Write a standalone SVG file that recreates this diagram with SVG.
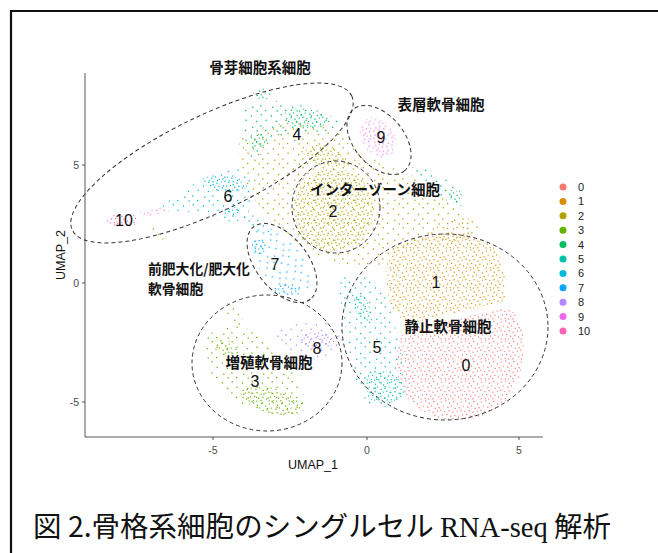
<svg xmlns="http://www.w3.org/2000/svg" xmlns:xlink="http://www.w3.org/1999/xlink" width="658" height="553" viewBox="0 0 658 553">
<style>
.ell{fill:none;stroke:#333;stroke-width:1;stroke-dasharray:4 3}
.jp{font-family:"Noto Sans CJK JP","Noto Sans",sans-serif;font-size:14.5px;font-weight:bold;fill:#111}
.jp2{font-family:"Noto Sans CJK JP","Noto Sans",sans-serif;font-size:13.8px;font-weight:bold;fill:#111}
.num{font-family:"Liberation Sans",Arial,sans-serif;font-size:16px;fill:#111;text-anchor:middle}
.tick{font-family:"Liberation Sans",Arial,sans-serif;font-size:10.5px;fill:#4d4d4d}
.axt{font-family:"Liberation Sans",Arial,sans-serif;font-size:12.5px;fill:#111;text-anchor:middle}
.leg{font-family:"Liberation Sans",Arial,sans-serif;font-size:11px;fill:#222}
.cap{font-family:"Noto Sans CJK JP","Noto Sans",sans-serif;font-size:28.5px;fill:#111}
.ax{stroke:#444;stroke-width:0.9;fill:none}
</style>
<defs>
<g id="dd">
<circle cx="1.3" cy="2.1" r="0.7"/><circle cx="5.7" cy="0.9" r="0.7"/><circle cx="9.4" cy="3.2" r="0.7"/><circle cx="13.8" cy="1.5" r="0.7"/><circle cx="17.6" cy="4.0" r="0.7"/>
<circle cx="3.2" cy="6.1" r="0.7"/><circle cx="7.9" cy="7.3" r="0.7"/><circle cx="11.5" cy="5.9" r="0.7"/><circle cx="15.2" cy="8.4" r="0.7"/><circle cx="19.1" cy="7.7" r="0.7"/>
<circle cx="0.9" cy="10.2" r="0.7"/><circle cx="4.8" cy="11.6" r="0.7"/><circle cx="9.1" cy="10.8" r="0.7"/><circle cx="13.0" cy="12.3" r="0.7"/><circle cx="17.3" cy="11.1" r="0.7"/>
<circle cx="2.5" cy="15.0" r="0.7"/><circle cx="6.6" cy="14.4" r="0.7"/><circle cx="10.7" cy="16.2" r="0.7"/><circle cx="14.9" cy="15.3" r="0.7"/><circle cx="18.5" cy="17.0" r="0.7"/>
<circle cx="1.2" cy="18.9" r="0.7"/><circle cx="5.3" cy="18.6" r="0.7"/><circle cx="8.6" cy="19.1" r="0.7"/><circle cx="12.9" cy="18.7" r="0.7"/>
</g>
<g id="ds">
<circle cx="2.4" cy="3.1" r="0.75"/><circle cx="12.2" cy="1.7" r="0.75"/><circle cx="7.5" cy="8.6" r="0.75"/><circle cx="17.1" cy="7.2" r="0.75"/>
<circle cx="3.8" cy="14.2" r="0.75"/><circle cx="11.9" cy="12.9" r="0.75"/><circle cx="16.6" cy="17.4" r="0.75"/><circle cx="8.2" cy="18.1" r="0.75"/>
</g>
<pattern id="p0d" width="20" height="20" patternUnits="userSpaceOnUse"><use xlink:href="#dd" fill="#F8766D"/></pattern>
<pattern id="p1d" width="20" height="20" patternUnits="userSpaceOnUse" patternTransform="translate(5,9)"><use xlink:href="#dd" fill="#DB8E00"/></pattern>
<pattern id="p1s" width="20" height="20" patternUnits="userSpaceOnUse"><use xlink:href="#ds" fill="#DB8E00"/></pattern>
<pattern id="p2d" width="20" height="20" patternUnits="userSpaceOnUse" patternTransform="translate(3,4)"><use xlink:href="#dd" fill="#AEA200"/></pattern>
<pattern id="p2s" width="20" height="20" patternUnits="userSpaceOnUse" patternTransform="translate(11,6)"><use xlink:href="#ds" fill="#AEA200"/></pattern>
<pattern id="p3d" width="20" height="20" patternUnits="userSpaceOnUse" patternTransform="translate(8,2)"><use xlink:href="#dd" fill="#64B200"/></pattern>
<pattern id="p3s" width="20" height="20" patternUnits="userSpaceOnUse"><use xlink:href="#ds" fill="#64B200"/></pattern>
<pattern id="p4d" width="20" height="20" patternUnits="userSpaceOnUse" patternTransform="translate(2,7)"><use xlink:href="#dd" fill="#00BD5C"/></pattern>
<pattern id="p4s" width="20" height="20" patternUnits="userSpaceOnUse" patternTransform="translate(9,13)"><use xlink:href="#ds" fill="#00BD5C"/></pattern>
<pattern id="p5d" width="20" height="20" patternUnits="userSpaceOnUse" patternTransform="translate(6,1)"><use xlink:href="#dd" fill="#00C1A7"/></pattern>
<pattern id="p5s" width="20" height="20" patternUnits="userSpaceOnUse" patternTransform="translate(13,5)"><use xlink:href="#ds" fill="#00C1A7"/></pattern>
<pattern id="p6d" width="20" height="20" patternUnits="userSpaceOnUse" patternTransform="translate(4,11)"><use xlink:href="#dd" fill="#00BADE"/></pattern>
<pattern id="p6s" width="20" height="20" patternUnits="userSpaceOnUse" patternTransform="translate(1,3)"><use xlink:href="#ds" fill="#00BADE"/></pattern>
<pattern id="p7d" width="20" height="20" patternUnits="userSpaceOnUse" patternTransform="translate(10,10)"><use xlink:href="#dd" fill="#00A6FF"/></pattern>
<pattern id="p7s" width="20" height="20" patternUnits="userSpaceOnUse" patternTransform="translate(5,15)"><use xlink:href="#ds" fill="#00A6FF"/></pattern>
<pattern id="p8d" width="20" height="20" patternUnits="userSpaceOnUse" patternTransform="translate(7,7)"><use xlink:href="#dd" fill="#B385FF"/></pattern>
<pattern id="p8s" width="20" height="20" patternUnits="userSpaceOnUse" patternTransform="translate(14,2)"><use xlink:href="#ds" fill="#B385FF"/></pattern>
<pattern id="p9d" width="20" height="20" patternUnits="userSpaceOnUse" patternTransform="translate(1,6)"><use xlink:href="#dd" fill="#EF67EB"/></pattern>
<pattern id="p10d" width="20" height="20" patternUnits="userSpaceOnUse" patternTransform="translate(9,4)"><use xlink:href="#dd" fill="#FF63B6"/></pattern>
</defs>

<rect width="658" height="553" fill="#fff"/>
<g id="frame" stroke="#111" stroke-width="2.2">
<line x1="10" y1="11" x2="658" y2="11"/>
<line x1="11" y1="10" x2="11" y2="553"/>
</g>

<g id="scatter">
<g id="c2">
<path fill="url(#p2s)" d="M240,140 C265,118 330,112 360,150 C390,170 430,180 460,210 C480,230 470,245 440,240 C410,240 392,255 380,265 C360,270 330,265 310,250 C290,240 270,222 255,200 C245,180 235,160 240,140 Z"/>
<ellipse fill="url(#p2d)" cx="334" cy="210" rx="40" ry="42"/>
<path fill="url(#p2d)" d="M300,150 C320,135 345,150 350,165 C335,170 315,168 300,150 Z"/>
<path fill="url(#p2s)" d="M225,305 C235,298 245,305 242,325 C235,330 226,322 225,305 Z"/>
<path fill="url(#p2s)" d="M150,226 C158,222 168,232 166,240 C160,240 152,234 150,226 Z"/>
</g>
<g id="c0">
<path fill="url(#p0d)" d="M402,335 C420,322 470,318 505,308 C520,310 528,335 522,365 C518,395 500,415 465,420 C435,422 410,410 400,385 C395,365 396,345 402,335 Z"/>
</g>
<g id="c1">
<path fill="url(#p1d)" d="M392,250 C410,235 450,232 480,238 C500,245 508,270 505,300 C490,305 460,312 420,322 C405,325 392,315 388,295 C385,275 386,262 392,250 Z"/>
<path fill="url(#p1s)" d="M425,238 C440,220 465,212 478,222 C484,234 470,242 450,242 Z"/>
</g>
<g id="c3">
<path fill="url(#p3s)" d="M205,340 C220,318 250,322 270,345 C285,360 305,385 306,408 C300,418 270,418 245,405 C220,395 203,375 205,340 Z"/>
<path fill="url(#p3d)" d="M240,388 C260,380 290,390 305,405 C305,416 290,418 270,414 C250,408 238,398 240,388 Z"/>
<path fill="url(#p3d)" d="M212,345 C222,335 235,340 240,352 C232,358 218,356 212,345 Z"/>
</g>
<g id="c4">
<path fill="url(#p4s)" d="M245,110 C260,95 300,100 335,118 C345,125 330,135 300,132 C280,132 265,150 255,162 C245,160 238,130 245,110 Z"/>
<ellipse fill="url(#p4d)" cx="262" cy="94" rx="9" ry="6"/>
<path fill="url(#p4d)" d="M285,112 C300,104 322,110 332,122 C320,130 300,130 287,124 Z"/>
<ellipse fill="url(#p4d)" cx="258" cy="141" rx="9" ry="7"/>
<path fill="url(#p4s)" d="M410,168 C430,165 455,180 465,205 C455,210 440,195 425,185 C415,180 408,175 410,168 Z"/>
<ellipse fill="url(#p4d)" cx="455" cy="196" rx="7" ry="7"/>
</g>
<g id="c5">
<path fill="url(#p5s)" d="M340,275 C360,268 378,282 388,302 C398,330 402,360 406,390 C402,406 386,410 370,405 C355,390 350,360 346,330 C343,305 334,285 340,275 Z"/>
<path fill="url(#p5d)" d="M365,375 C380,365 400,372 405,392 C398,405 380,405 368,398 Z"/>
<path fill="url(#p5d)" d="M352,295 C362,290 372,300 372,320 C364,325 354,315 352,295 Z"/>
</g>
<g id="c6">
<path fill="url(#p6s)" d="M160,208 C178,192 210,170 245,168 C256,180 252,200 248,215 C238,226 215,222 195,212 C180,210 168,214 160,208 Z"/>
<path fill="url(#p6d)" d="M200,180 C215,170 240,172 248,188 C235,196 212,194 200,180 Z"/>
<ellipse fill="url(#p6d)" cx="232" cy="212" rx="9" ry="5"/>
<path fill="url(#p6s)" d="M242,215 C255,212 270,222 272,232 C260,234 245,228 242,215 Z"/>
</g>
<g id="c7">
<ellipse fill="url(#p7s)" cx="281" cy="262" rx="40" ry="22" transform="rotate(52 281 262)"/>
<ellipse fill="url(#p7d)" cx="287" cy="289" rx="13" ry="6"/>
<ellipse fill="url(#p7d)" cx="259" cy="246" rx="8" ry="8"/>
</g>
<g id="c8">
<path fill="url(#p8s)" d="M272,330 C290,320 320,318 342,328 C347,340 340,356 325,360 C300,356 284,348 272,340 Z"/>
<ellipse fill="url(#p8d)" cx="318" cy="340" rx="18" ry="9"/>
</g>
<g id="c9">
<ellipse fill="url(#p9d)" cx="378" cy="138" rx="22" ry="16" transform="rotate(50 378 138)"/>
</g>
<g id="c10">
<ellipse fill="url(#p10d)" cx="123" cy="220" rx="16" ry="7"/>
<ellipse fill="url(#p10d)" cx="152" cy="212" rx="14" ry="3.5" transform="rotate(-10 152 212)"/>
</g>
</g>

<g id="axes">
<line class="ax" x1="85" y1="73" x2="85" y2="437"/>
<line class="ax" x1="85" y1="437" x2="543" y2="437"/>
<line class="ax" x1="82" y1="165" x2="85" y2="165"/>
<line class="ax" x1="82" y1="283" x2="85" y2="283"/>
<line class="ax" x1="82" y1="402" x2="85" y2="402"/>
<line class="ax" x1="213" y1="437" x2="213" y2="440"/>
<line class="ax" x1="367" y1="437" x2="367" y2="440"/>
<line class="ax" x1="519" y1="437" x2="519" y2="440"/>
<text class="tick" x="79" y="169" text-anchor="end">5</text>
<text class="tick" x="79" y="287" text-anchor="end">0</text>
<text class="tick" x="79" y="406" text-anchor="end">-5</text>
<text class="tick" x="213" y="454" text-anchor="middle">-5</text>
<text class="tick" x="367" y="454" text-anchor="middle">0</text>
<text class="tick" x="519" y="454" text-anchor="middle">5</text>
<text class="axt" x="313" y="469">UMAP_1</text>
<text class="axt" x="0" y="0" transform="translate(65 255) rotate(-90)">UMAP_2</text>
</g>

<g id="regions">
<g id="r-osteo"><ellipse class="ell" cx="212" cy="163" rx="155" ry="48" transform="rotate(-25.7 212 163)"/><text class="jp" x="260" y="73" text-anchor="middle">骨芽細胞系細胞</text></g>
<g id="r-surface"><ellipse class="ell" cx="379" cy="140" rx="40" ry="25" transform="rotate(50 379 140)"/><text class="jp" x="441" y="110" text-anchor="middle">表層軟骨細胞</text></g>
<g id="r-inter"><ellipse class="ell" cx="336" cy="207" rx="44" ry="46"/><text class="jp" x="375" y="195" text-anchor="middle">インターゾーン細胞</text></g>
<g id="r-hyper"><ellipse class="ell" cx="282" cy="263" rx="46" ry="26" transform="rotate(52 282 263)"/><text class="jp2" x="148" y="274">前肥大化/肥大化</text><text class="jp2" x="148" y="294">軟骨細胞</text></g>
<g id="r-prolif"><ellipse class="ell" cx="267" cy="363" rx="75" ry="68"/><text class="jp" x="269" y="368" text-anchor="middle">増殖軟骨細胞</text></g>
<g id="r-resting"><ellipse class="ell" cx="445" cy="327" rx="103" ry="93"/><text class="jp" x="448" y="332" text-anchor="middle">静止軟骨細胞</text></g>
</g>

<g id="cluster-labels">
<text class="num" x="124" y="226">10</text>
<text class="num" x="228" y="202">6</text>
<text class="num" x="297" y="140">4</text>
<text class="num" x="381" y="143">9</text>
<text class="num" x="333" y="217">2</text>
<text class="num" x="275" y="270">7</text>
<text class="num" x="436" y="288">1</text>
<text class="num" x="377" y="353">5</text>
<text class="num" x="466" y="371">0</text>
<text class="num" x="317" y="354">8</text>
<text class="num" x="255" y="387">3</text>
</g>

<g id="legend">
<circle cx="563" cy="187" r="3.5" fill="#F8766D"/><text class="leg" x="578" y="191">0</text>
<circle cx="563" cy="201.4" r="3.5" fill="#DB8E00"/><text class="leg" x="578" y="205.4">1</text>
<circle cx="563" cy="215.8" r="3.5" fill="#AEA200"/><text class="leg" x="578" y="219.8">2</text>
<circle cx="563" cy="230.2" r="3.5" fill="#64B200"/><text class="leg" x="578" y="234.2">3</text>
<circle cx="563" cy="244.6" r="3.5" fill="#00BD5C"/><text class="leg" x="578" y="248.6">4</text>
<circle cx="563" cy="259" r="3.5" fill="#00C1A7"/><text class="leg" x="578" y="263">5</text>
<circle cx="563" cy="273.4" r="3.5" fill="#00BADE"/><text class="leg" x="578" y="277.4">6</text>
<circle cx="563" cy="287.8" r="3.5" fill="#00A6FF"/><text class="leg" x="578" y="291.8">7</text>
<circle cx="563" cy="302.2" r="3.5" fill="#B385FF"/><text class="leg" x="578" y="306.2">8</text>
<circle cx="563" cy="316.6" r="3.5" fill="#EF67EB"/><text class="leg" x="578" y="320.6">9</text>
<circle cx="563" cy="331" r="3.5" fill="#FF63B6"/><text class="leg" x="578" y="335">10</text>
</g>

<g id="caption">
<text class="cap" x="33" y="537">図 2.骨格系細胞のシングルセル <tspan font-family="Liberation Serif">RNA-seq</tspan> 解析</text>
</g>
</svg>
